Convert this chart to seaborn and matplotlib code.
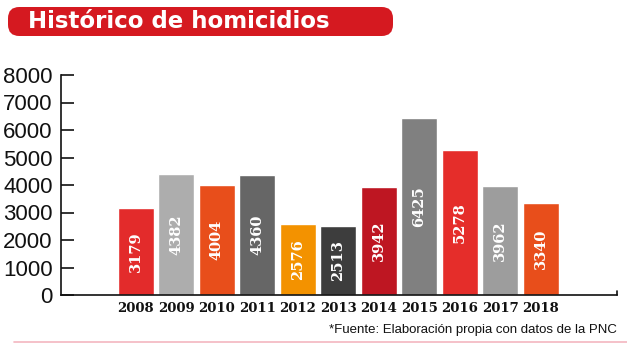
import matplotlib
matplotlib.use("Agg")
import matplotlib.pyplot as plt
from matplotlib.patches import FancyBboxPatch
from matplotlib.lines import Line2D
import seaborn as sns
import pandas as pd

years = ["2008", "2009", "2010", "2011", "2012", "2013", "2014", "2015", "2016", "2017", "2018"]
homicides = [3179, 4382, 4004, 4360, 2576, 2513, 3942, 6425, 5278, 3962, 3340]
colors = ["#e32b2b", "#adadad", "#e84e1b", "#666666", "#f39200", "#3d3d3d",
          "#be1622", "#808080", "#e52d2a", "#9d9d9d", "#e84e1b"]
yticks = [0, 1000, 2000, 3000, 4000, 5000, 6000, 7000, 8000]
title = "Histórico de homicidios"
source = "*Fuente: Elaboración propia con datos de la PNC"

df = pd.DataFrame({"year": years, "value": homicides})

sns.set_style("white")
plt.rcParams["font.family"] = ["Liberation Sans", "DejaVu Sans"]

W, H = 627, 350
fig = plt.figure(figsize=(W / 100, H / 100), dpi=100)
ax = fig.add_axes([61 / W, 1 - 295 / H, (617 - 61) / W, (295 - 75) / H])

sns.barplot(data=df, x="year", y="value", hue="year", palette=colors,
            legend=False, width=0.89, saturation=1, ax=ax)

ax.set_xlim(-1.85, 11.88)
ax.set_ylim(0, 8000)
ax.set_yticks(yticks)
ax.set_yticklabels([str(t) for t in yticks], fontsize=16, color="#111111")
ax.set_xlabel("")
ax.set_ylabel("")
for s in ["top", "right"]:
    ax.spines[s].set_visible(False)
for s in ["left", "bottom"]:
    ax.spines[s].set_linewidth(1.2)
    ax.spines[s].set_color("#111111")
ax.tick_params(axis="y", direction="in", length=9, width=1.2, color="#111111", pad=6, left=True)
ax.tick_params(axis="x", length=0, pad=5)
for lab in ax.get_xticklabels():
    lab.set_fontfamily("DejaVu Serif")
    lab.set_fontweight("bold")
    lab.set_fontsize(9.5)
    lab.set_color("#111111")

# value labels inside bars
for i, v in enumerate(homicides):
    ax.text(i, v / 2, str(v), rotation=90, ha="center", va="center",
            color="white", fontsize=10.5, fontweight="bold", family="DejaVu Serif")

# small end tick on x axis
ax.add_line(Line2D([1, 1], [0, 0.018], transform=ax.transAxes, color="#111111",
                   lw=1.2, clip_on=False))

# title box
box = FancyBboxPatch((8 / W, 1 - 36 / H), (393 - 8) / W, 29 / H,
                     boxstyle="round,pad=0,rounding_size=0.018",
                     transform=fig.transFigure, facecolor="#d51920", edgecolor="none",
                     mutation_aspect=W / H)
fig.patches.append(box)
fig.text(28 / W, 1 - 21.5 / H, title, color="white", fontsize=16.5, fontweight="bold",
         family="DejaVu Sans", ha="left", va="center")

# source
fig.text(617 / W, 1 - 330 / H, source, fontsize=9.5, ha="right", va="center", color="#111111")
fig.add_artist(Line2D([14 / W, 1], [1 - 342 / H, 1 - 342 / H], transform=fig.transFigure,
                      color="#f4b6c0", lw=1.2))

fig.savefig("out.png", dpi=100)
